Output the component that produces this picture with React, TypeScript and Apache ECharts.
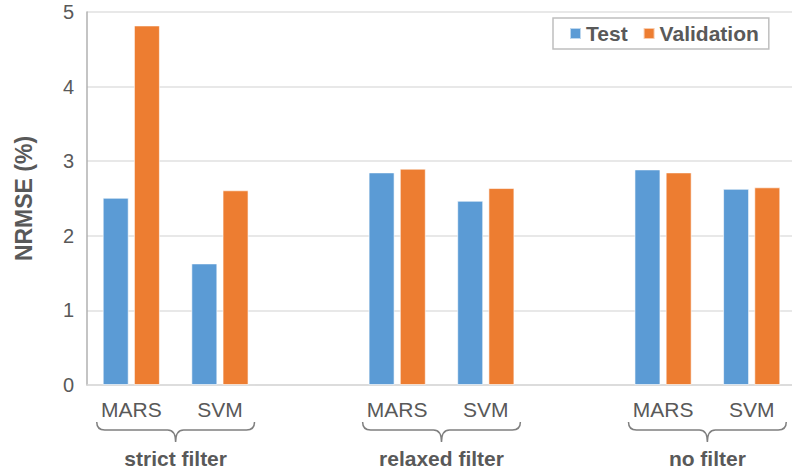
import React, { useEffect, useRef } from "react";
import * as echarts from "echarts";

const categories = ["MARS", "SVM", "", "MARS", "SVM", "", "MARS", "SVM"];
const testValues: (number | null)[] = [2.51, 1.63, null, 2.85, 2.47, null, 2.89, 2.63];
const validationValues: (number | null)[] = [4.82, 2.61, null, 2.9, 2.64, null, 2.85, 2.65];
const groupLabels = ["strict filter", "relaxed filter", "no filter"];
const groupSpans: [number, number][] = [
  [0, 1],
  [3, 4],
  [6, 7],
];
const seriesNames = ["Test", "Validation"];

const FONT = "'Liberation Sans', Arial, sans-serif";
const TEXT = "#595959";

export default function App() {
  const ref = useRef<HTMLDivElement>(null);
  useEffect(() => {
    if (!ref.current) return;
    const chart = echarts.init(ref.current, undefined, { renderer: "svg" });
    chart.setOption({
      animation: false,
      backgroundColor: "#ffffff",
      textStyle: { fontFamily: FONT },
      grid: { left: 87, top: 12, width: 709, height: 373, outerBoundsMode: "none", containLabel: false },
      legend: {
        data: seriesNames,
        left: 553,
        top: 18,
        icon: "rect",
        itemWidth: 11,
        itemHeight: 11,
        itemGap: 15,
        padding: [5, 10, 5, 16],
        borderColor: "#bfbfbf",
        borderWidth: 1.5,
        backgroundColor: "#ffffff",
        textStyle: { fontFamily: FONT, fontSize: 21, fontWeight: "bold", color: TEXT },
      },
      xAxis: {
        type: "category",
        data: categories,
        axisTick: { show: false },
        axisLine: { lineStyle: { color: "#d9d9d9", width: 1.5 } },
        axisLabel: { fontFamily: FONT, fontSize: 21, color: TEXT, margin: 14, interval: 0 },
      },
      yAxis: {
        type: "value",
        min: 0,
        max: 5,
        interval: 1,
        name: "NRMSE (%)",
        nameLocation: "middle",
        nameGap: 52,
        nameRotate: 90,
        nameTextStyle: { fontFamily: FONT, fontSize: 23, fontWeight: "bold", color: TEXT },
        axisLine: { show: true, lineStyle: { color: "#b0b0b0", width: 1.5 } },
        axisTick: { show: false },
        axisLabel: { fontFamily: FONT, fontSize: 20, color: TEXT, margin: 13 },
        splitLine: { lineStyle: { color: "#e0e0e0", width: 1.5 } },
      },
      series: [
        {
          name: seriesNames[0],
          type: "bar",
          data: testValues,
          barWidth: 26,
          barGap: "20%",
          itemStyle: { color: "#5B9BD5", borderColor: "rgba(255,255,255,0.6)", borderWidth: 1 },
        },
        {
          name: seriesNames[1],
          type: "bar",
          data: validationValues,
          barWidth: 26,
          barGap: "20%",
          itemStyle: { color: "#ED7D31", borderColor: "rgba(255,255,255,0.6)", borderWidth: 1 },
        },
        {
          type: "custom",
          clip: false,
          silent: true,
          data: groupSpans.map(([a, b], i) => [a, b, 0, i]),
          encode: { x: [0, 1], y: 2 },
          renderItem: (params: any, api: any) => {
            const a = api.value(0);
            const b = api.value(1);
            const idx = api.value(3);
            const pa = api.coord([a, 0]);
            const pb = api.coord([b, 0]);
            const band = api.size([1, 0])[0];
            const ext = band * 0.39;
            const x0 = pa[0] - ext;
            const x1 = pb[0] + ext;
            const cx = (x0 + x1) / 2;
            const yTop = pa[1] + 37;
            const yMid = yTop + 8;
            const yTip = yTop + 20;
            const r = 8;
            const d =
              `M${x0},${yTop} Q${x0},${yMid} ${x0 + r},${yMid} L${cx - r},${yMid} ` +
              `Q${cx},${yMid} ${cx},${yTip} Q${cx},${yMid} ${cx + r},${yMid} ` +
              `L${x1 - r},${yMid} Q${x1},${yMid} ${x1},${yTop}`;
            return {
              type: "group",
              children: [
                {
                  type: "path",
                  shape: { pathData: d },
                  style: { fill: "none", stroke: "#7f7f7f", lineWidth: 1.5 },
                },
                {
                  type: "text",
                  x: cx,
                  y: pa[1] + 73,
                  style: {
                    text: groupLabels[idx],
                    fill: TEXT,
                    font: `bold 21px ${FONT}`,
                    align: "center",
                    verticalAlign: "middle",
                  },
                },
              ],
            };
          },
        },
      ],
    });
    return () => chart.dispose();
  }, []);
  return (
    <div
      ref={ref}
      style={{ position: "absolute", left: 0, top: 0, width: 792, height: 472 }}
    />
  );
}
